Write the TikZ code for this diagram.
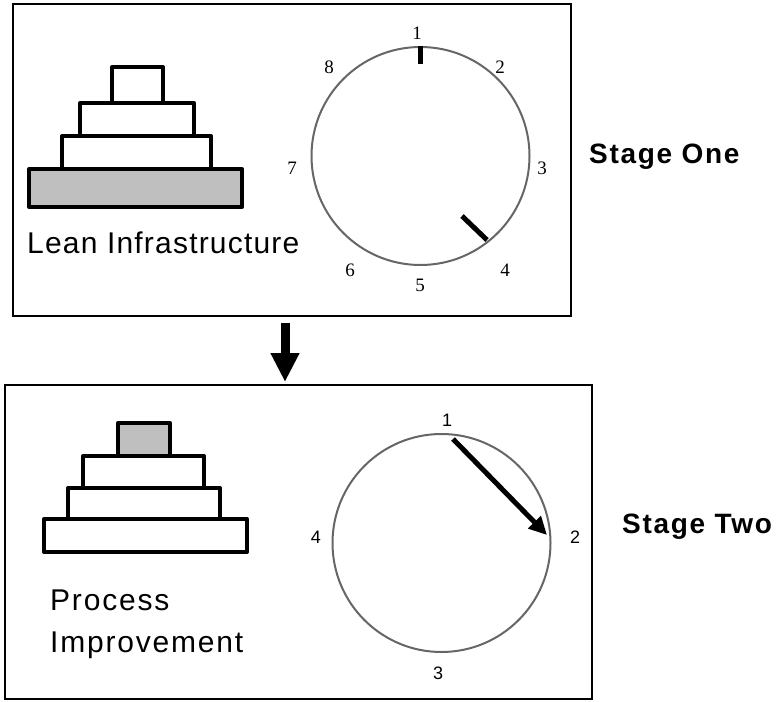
\documentclass[tikz,border=0pt]{standalone}
\usepackage{fontspec}
\setmainfont{Liberation Sans}
\newfontfamily\serifdig{Liberation Serif}
\usetikzlibrary{arrows.meta}
\begin{document}
\begin{tikzpicture}[x=1bp,y=-1bp,
  frame/.style={draw=black,line width=2bp,inner sep=0pt},
  block/.style={draw=black,line width=4bp,line join=round},
  dial/.style={circle,draw=black!60,line width=2bp,minimum size=218bp,inner sep=0pt},
  serifnum/.style={font=\serifdig\fontsize{19bp}{22bp}\selectfont,inner sep=0pt},
  sansnum/.style={font=\fontsize{18bp}{21bp}\selectfont,inner sep=0pt},
  bigtext/.style={font=\fontsize{30bp}{36bp}\selectfont\addfontfeature{LetterSpace=4},inner sep=0pt,anchor=base west},
  proctext/.style={font=\fontsize{30bp}{36bp}\selectfont\addfontfeature{LetterSpace=6},inner sep=0pt,anchor=base west},
  stagetext/.style={font=\bfseries\fontsize{28bp}{32bp}\selectfont\addfontfeature{LetterSpace=6},inner sep=0pt,anchor=base west},
  hand/.style={line width=5bp,black}]
\useasboundingbox (0,0) rectangle (781,702);
% boxes
\node[frame,minimum width=558bp,minimum height=312bp] (box1) at (292,160) {};
\node[frame,minimum width=587bp,minimum height=314bp] (box2) at (298.5,542) {};
% top pyramid
\filldraw[block,fill=black!25] (29,169) rectangle (242,207);
\draw[block] (62,136) rectangle (211,169);
\draw[block] (80,103) rectangle (194,136);
\draw[block] (112,67) rectangle (163,103);
\node[bigtext] (lean) at (27,253) {Lean Infrastructure};
% top clock
\node[dial] (c1) at (420.5,156) {};
\draw[hand] (c1.north) -- ++(0,18);
\coordinate (t4a) at (462,216);
\coordinate (t4b) at (487,240);
\draw[hand] (t4a) -- (t4b);
\node[serifnum] (n1) at (417,33) {1};
\node[serifnum] (n2) at (500,67) {2};
\node[serifnum] (n3) at (542,168) {3};
\node[serifnum] (n4) at (505,270) {4};
\node[serifnum] (n5) at (420,285) {5};
\node[serifnum] (n6) at (350,270) {6};
\node[serifnum] (n7) at (292,168) {7};
\node[serifnum] (n8) at (329,67) {8};
\node[stagetext] (s1) at (589,163) {Stage One};
% arrow between
\coordinate (a1) at (285,323);
\coordinate (a2) at (285,382);
\draw[line width=9bp,-{Triangle[length=29bp,width=27bp]}] (a1) -- (a2);
% bottom pyramid
\draw[block] (44,519) rectangle (247,552);
\draw[block] (68,488) rectangle (220,519);
\draw[block] (83,456) rectangle (204,488);
\filldraw[block,fill=black!25] (118,423) rectangle (170,456);
\node[proctext] (proc) at (50,610) {Process};
\node[proctext] (impr) at (50,652) {Improvement};
% bottom clock
\node[dial] (c2) at (441.5,543) {};
\coordinate (h1) at (453,439);
\coordinate (h2) at (547,535);
\draw[hand,-{Triangle[length=18bp,width=17bp]}] (h1) -- (h2);
\node[sansnum] (m1) at (447,420) {1};
\node[sansnum] (m2) at (575,537) {2};
\node[sansnum] (m3) at (438,673) {3};
\node[sansnum] (m4) at (316,537) {4};
\node[stagetext] (s2) at (622,533) {Stage Two};
\end{tikzpicture}
\end{document}
